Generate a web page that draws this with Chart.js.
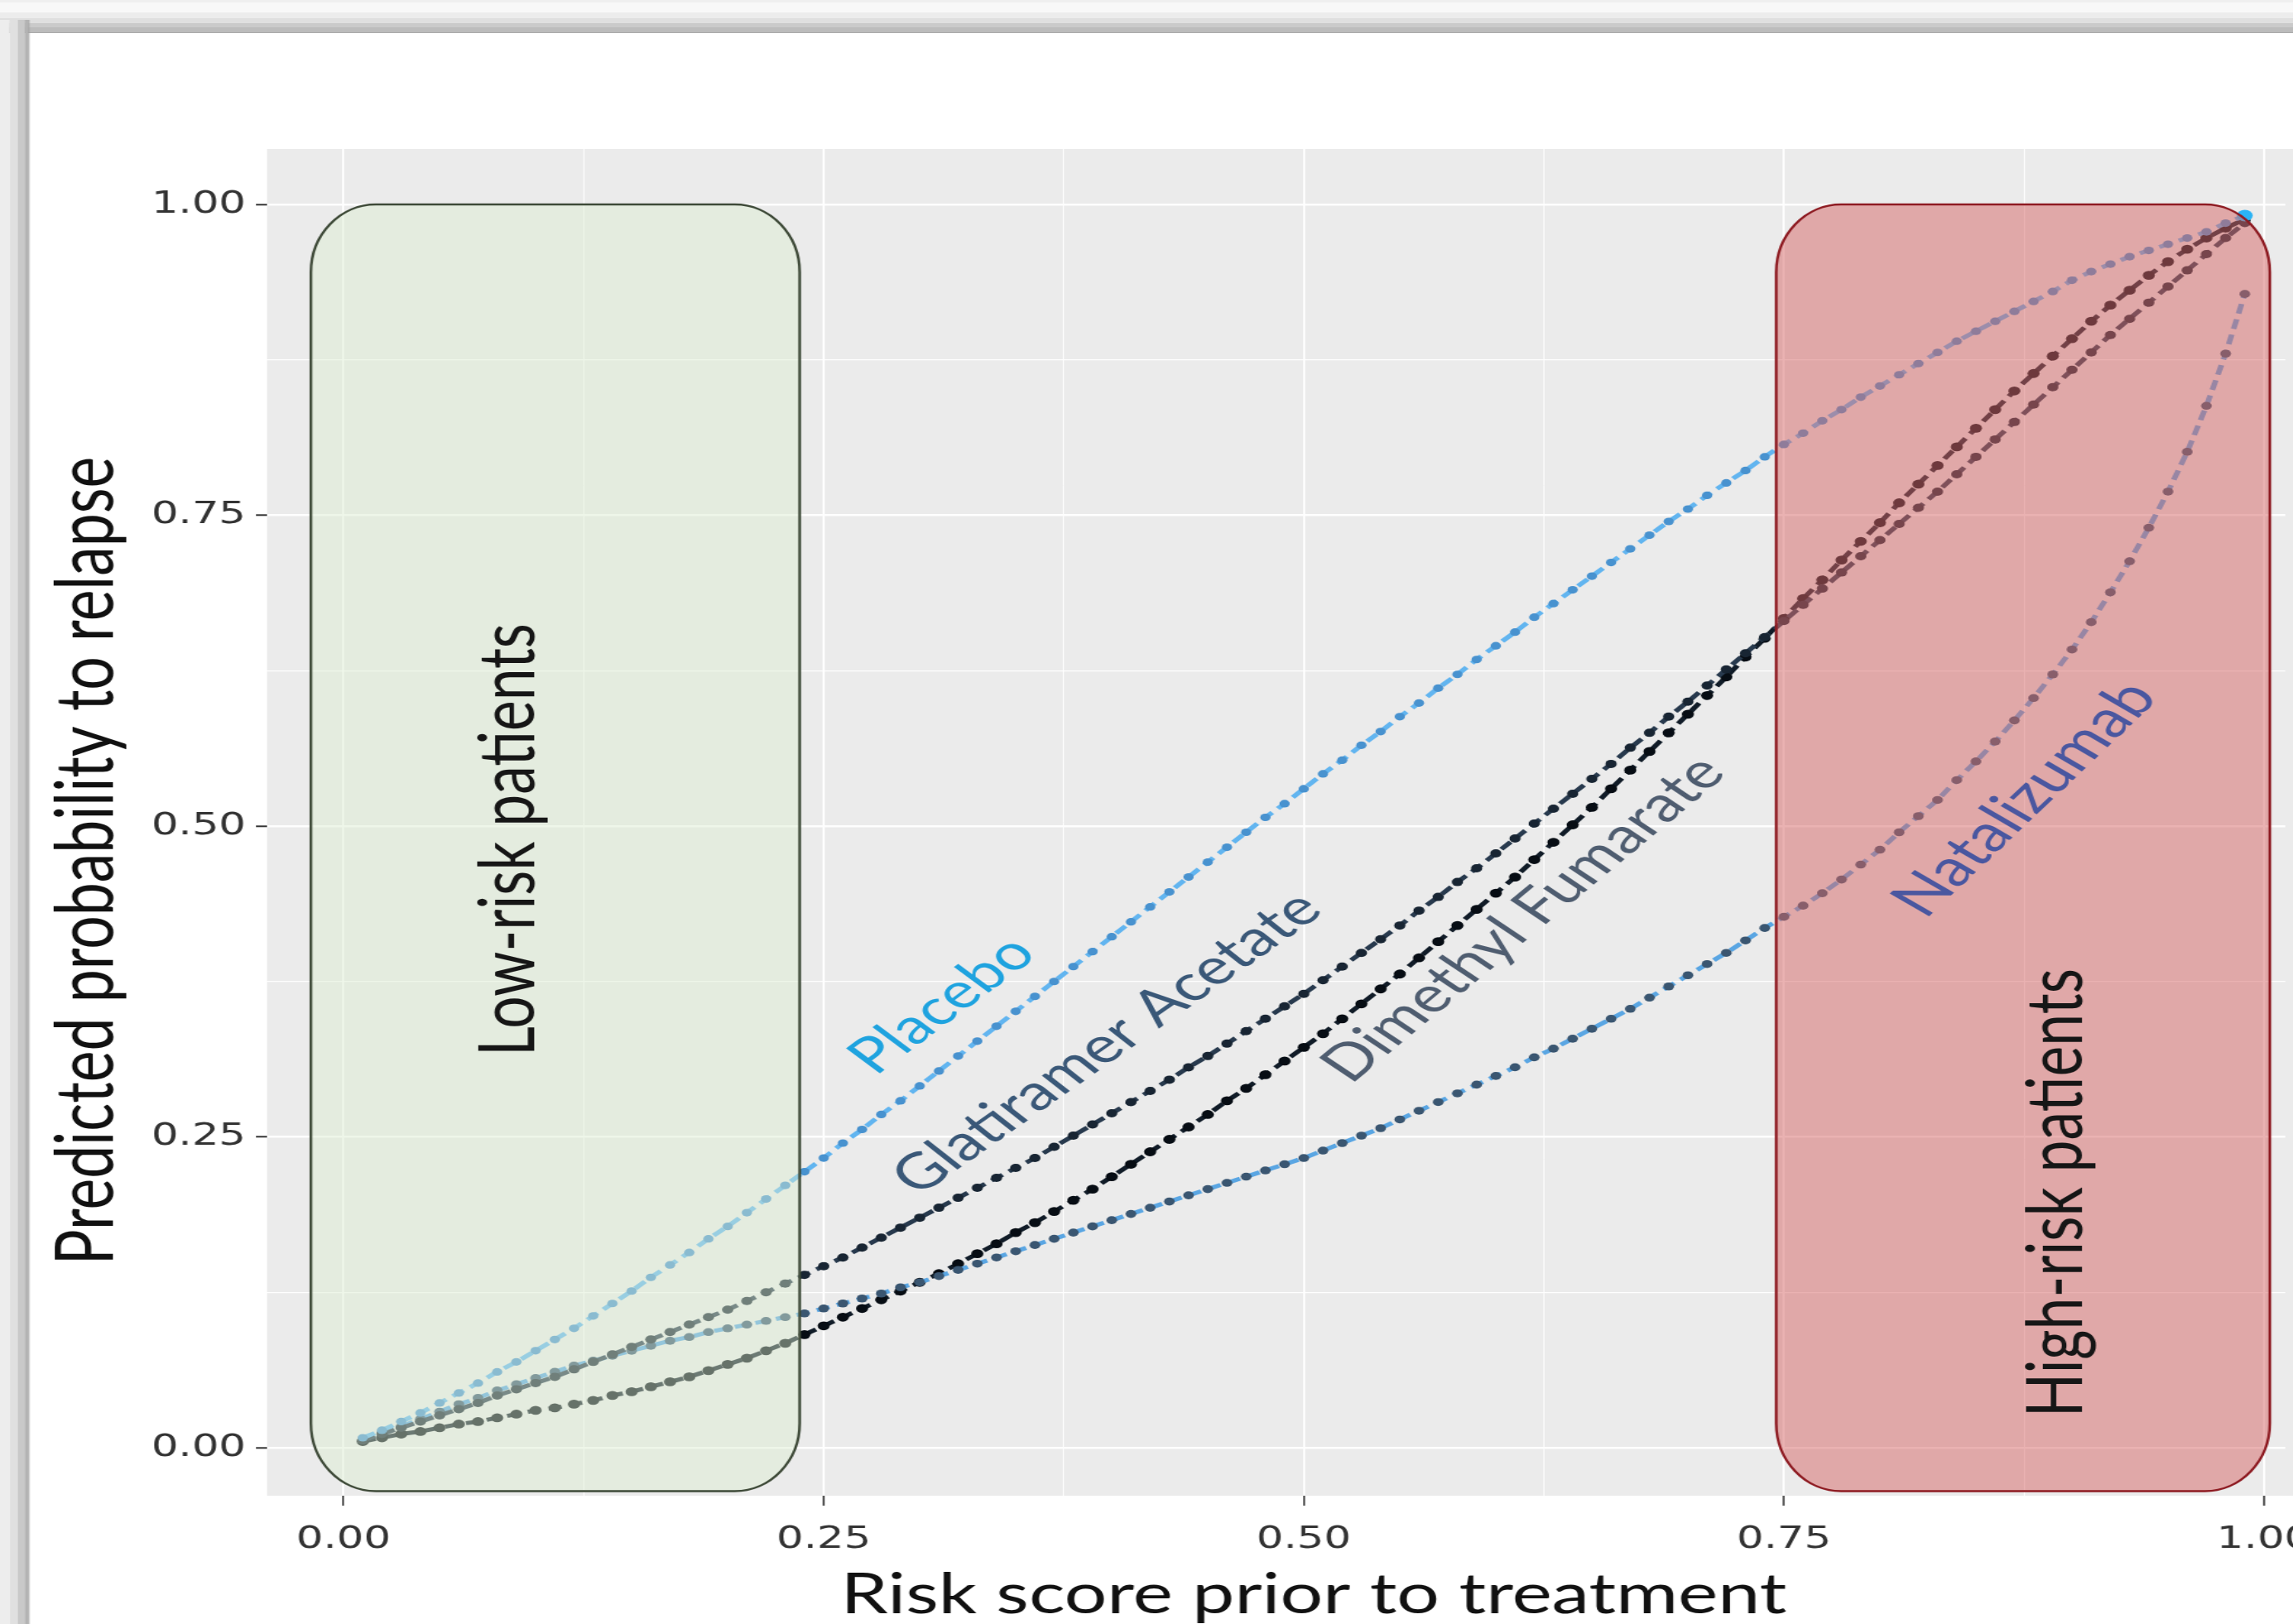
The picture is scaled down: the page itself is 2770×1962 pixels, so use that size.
<!DOCTYPE html>
<html>
<head>
<meta charset="utf-8">
<script src="https://cdn.jsdelivr.net/npm/chart.js@4.4.1/dist/chart.umd.min.js"></script>
<style>
  html, body { margin: 0; padding: 0; background: #fff; overflow: hidden; }
  /* the source picture is stretched sideways, so the whole canvas is too */
  #wrap { width: 2052px; height: 1962px; transform: scaleX(1.35); transform-origin: 0 0; }
  canvas { display: block; }
</style>
</head>
<body>
<div id="wrap"><canvas id="chart" width="2052" height="1962"></canvas></div>
<script>
const STRETCH = 1.35;

// ---- data ----
const riskScore = [
  0.01, 0.02, 0.03, 0.04, 0.05, 0.06, 0.07, 0.08, 0.09, 0.10,
  0.11, 0.12, 0.13, 0.14, 0.15, 0.16, 0.17, 0.18, 0.19, 0.20,
  0.21, 0.22, 0.23, 0.24, 0.25, 0.26, 0.27, 0.28, 0.29, 0.30,
  0.31, 0.32, 0.33, 0.34, 0.35, 0.36, 0.37, 0.38, 0.39, 0.40,
  0.41, 0.42, 0.43, 0.44, 0.45, 0.46, 0.47, 0.48, 0.49, 0.50,
  0.51, 0.52, 0.53, 0.54, 0.55, 0.56, 0.57, 0.58, 0.59, 0.60,
  0.61, 0.62, 0.63, 0.64, 0.65, 0.66, 0.67, 0.68, 0.69, 0.70,
  0.71, 0.72, 0.73, 0.74, 0.75, 0.76, 0.77, 0.78, 0.79, 0.80,
  0.81, 0.82, 0.83, 0.84, 0.85, 0.86, 0.87, 0.88, 0.89, 0.90,
  0.91, 0.92, 0.93, 0.94, 0.95, 0.96, 0.97, 0.98, 0.99
];

const placebo = [
  0.008, 0.014, 0.021, 0.028, 0.036, 0.044, 0.052, 0.061, 0.069, 0.078,
  0.087, 0.096, 0.106, 0.116, 0.126, 0.137, 0.147, 0.157, 0.168, 0.178,
  0.189, 0.200, 0.211, 0.222, 0.233, 0.245, 0.256, 0.268, 0.279, 0.291,
  0.303, 0.315, 0.327, 0.339, 0.351, 0.363, 0.375, 0.387, 0.399, 0.411,
  0.423, 0.435, 0.447, 0.459, 0.471, 0.483, 0.495, 0.507, 0.518, 0.530,
  0.542, 0.553, 0.565, 0.576, 0.588, 0.599, 0.611, 0.622, 0.634, 0.645,
  0.656, 0.668, 0.679, 0.690, 0.701, 0.712, 0.723, 0.734, 0.745, 0.755,
  0.766, 0.776, 0.786, 0.797, 0.807, 0.816, 0.826, 0.835, 0.845, 0.854,
  0.863, 0.872, 0.881, 0.890, 0.898, 0.906, 0.914, 0.922, 0.930, 0.939,
  0.946, 0.952, 0.958, 0.963, 0.968, 0.973, 0.978, 0.985, 0.991
];

const glatiramer = [
  0.006, 0.011, 0.016, 0.021, 0.026, 0.031, 0.036, 0.042, 0.047, 0.052,
  0.057, 0.063, 0.069, 0.075, 0.081, 0.087, 0.093, 0.099, 0.105, 0.111,
  0.118, 0.125, 0.132, 0.139, 0.146, 0.153, 0.161, 0.169, 0.177, 0.185,
  0.193, 0.201, 0.209, 0.217, 0.225, 0.233, 0.242, 0.251, 0.260, 0.269,
  0.278, 0.287, 0.296, 0.306, 0.315, 0.325, 0.335, 0.345, 0.355, 0.365,
  0.376, 0.387, 0.398, 0.409, 0.420, 0.432, 0.443, 0.455, 0.466, 0.478,
  0.490, 0.502, 0.514, 0.526, 0.538, 0.550, 0.563, 0.575, 0.588, 0.600,
  0.613, 0.626, 0.639, 0.652, 0.665, 0.678, 0.691, 0.704, 0.717, 0.730,
  0.743, 0.756, 0.769, 0.783, 0.797, 0.811, 0.825, 0.839, 0.853, 0.867,
  0.881, 0.895, 0.908, 0.921, 0.934, 0.947, 0.960, 0.973, 0.985
];

const dimethylFumarate = [
  0.005, 0.008, 0.011, 0.013, 0.016, 0.019, 0.021, 0.024, 0.027, 0.030,
  0.032, 0.035, 0.038, 0.042, 0.045, 0.049, 0.053, 0.057, 0.062, 0.067,
  0.072, 0.078, 0.084, 0.091, 0.098, 0.105, 0.112, 0.119, 0.126, 0.133,
  0.140, 0.148, 0.156, 0.164, 0.173, 0.181, 0.190, 0.199, 0.208, 0.218,
  0.228, 0.238, 0.248, 0.258, 0.268, 0.279, 0.289, 0.300, 0.311, 0.322,
  0.333, 0.345, 0.357, 0.369, 0.381, 0.394, 0.407, 0.420, 0.433, 0.446,
  0.459, 0.473, 0.487, 0.501, 0.515, 0.530, 0.545, 0.560, 0.575, 0.590,
  0.605, 0.620, 0.636, 0.651, 0.667, 0.683, 0.698, 0.714, 0.729, 0.744,
  0.760, 0.775, 0.790, 0.805, 0.820, 0.835, 0.850, 0.864, 0.878, 0.892,
  0.906, 0.919, 0.931, 0.943, 0.954, 0.964, 0.973, 0.981, 0.988
];

const natalizumab = [
  0.006, 0.012, 0.017, 0.023, 0.029, 0.035, 0.040, 0.046, 0.051, 0.056,
  0.061, 0.066, 0.070, 0.074, 0.078, 0.082, 0.086, 0.089, 0.093, 0.096,
  0.099, 0.102, 0.105, 0.108, 0.112, 0.116, 0.120, 0.124, 0.129, 0.133,
  0.138, 0.143, 0.148, 0.153, 0.158, 0.163, 0.168, 0.173, 0.178, 0.183,
  0.188, 0.193, 0.198, 0.203, 0.208, 0.213, 0.218, 0.223, 0.228, 0.233,
  0.239, 0.245, 0.251, 0.257, 0.264, 0.271, 0.278, 0.285, 0.292, 0.299,
  0.306, 0.314, 0.321, 0.329, 0.337, 0.345, 0.353, 0.362, 0.371, 0.380,
  0.389, 0.398, 0.408, 0.418, 0.427, 0.436, 0.446, 0.457, 0.469, 0.481,
  0.495, 0.508, 0.521, 0.537, 0.552, 0.568, 0.585, 0.603, 0.622, 0.642,
  0.664, 0.688, 0.713, 0.740, 0.769, 0.801, 0.838, 0.880, 0.928
];

const xTicks = [0, 0.25, 0.5, 0.75, 1];
const xTickLabels = ['0.00', '0.25', '0.50', '0.75', '1.00'];
const yTicks = [0, 0.25, 0.5, 0.75, 1];
const yTickLabels = ['0.00', '0.25', '0.50', '0.75', '1.00'];
const minorTicks = [0.125, 0.375, 0.625, 0.875];

// patient groups, in data units
const groupNames = ['Low-risk patients', 'High-risk patients'];
const groupXFrom = [-0.017, 0.746];
const groupXTo = [0.2375, 1.003];
const groupYFrom = [-0.035, -0.035];
const groupYTo = [1.0, 1.0];

// ---- look ----
const groupStyle = [
  { fill: 'rgba(219,237,208,0.45)', stroke: '#3e4a38', labelX: 0.099, labelY: 0.489, length: 523 },
  { fill: 'rgba(213,101,101,0.5)', stroke: '#8e1b22', labelX: 0.9054, labelY: 0.205, length: 542 }
];

// text placed along the curves: anchor in data units, angle and length as seen on screen
const curveLabels = [
  { text: 'Placebo', x: 0.3116, y: 0.3562, angle: 36.5, length: 245, color: '#1fa3df' },
  { text: 'Glatiramer Acetate', x: 0.3974, y: 0.3256, angle: 35, length: 600, color: '#3a5878' },
  { text: 'Dimethyl Fumarate', x: 0.6142, y: 0.4254, angle: 39.5, length: 590, color: '#4f5d70' },
  { text: 'Natalizumab', x: 0.8754, y: 0.522, angle: 43.5, length: 390, color: '#4a57a0' }
];

// where 0 and 1 sit on screen (screen px), used to set the axis ranges
const xScreen = [415, 2735];
const yScreen = [1749, 247];

const TEXT_FONT = 'Lato';

function series(label, values, line, dots, radius) {
  return {
    label: label,
    data: values,
    borderColor: line,
    borderWidth: 5,
    borderDash: [12, 7],
    pointBackgroundColor: dots,
    pointBorderWidth: 0,
    pointRadius: radius,
    tension: 0,
    fill: false
  };
}

function isMajor(list, v) {
  return list.indexOf(v) >= 0;
}

function roundBox(ctx, x0, y0, x1, y1, rx, ry) {
  ctx.beginPath();
  ctx.moveTo(x0 + rx, y0);
  ctx.lineTo(x1 - rx, y0);
  ctx.ellipse(x1 - rx, y0 + ry, rx, ry, 0, -Math.PI / 2, 0);
  ctx.lineTo(x1, y1 - ry);
  ctx.ellipse(x1 - rx, y1 - ry, rx, ry, 0, 0, Math.PI / 2);
  ctx.lineTo(x0 + rx, y1);
  ctx.ellipse(x0 + rx, y1 - ry, rx, ry, 0, Math.PI / 2, Math.PI);
  ctx.lineTo(x0, y0 + ry);
  ctx.ellipse(x0 + rx, y0 + ry, rx, ry, 0, Math.PI, Math.PI * 1.5);
  ctx.closePath();
}

// draws text so that after the sideways stretch it has the given angle and length
function drawText(ctx, text, x, y, angleDeg, length, color, baseline) {
  const a = angleDeg * Math.PI / 180;
  const ca = Math.atan2(Math.sin(a), Math.cos(a) / STRETCH);
  const k = Math.hypot(STRETCH * Math.cos(ca), Math.sin(ca));
  ctx.font = '100px ' + TEXT_FONT;
  const size = 100 * (length / k) / ctx.measureText(text).width;
  ctx.save();
  ctx.translate(x, y);
  ctx.rotate(-ca);
  ctx.font = size.toFixed(1) + 'px ' + TEXT_FONT;
  ctx.fillStyle = color;
  ctx.textAlign = 'center';
  ctx.textBaseline = baseline || 'middle';
  ctx.fillText(text, 0, 0);
  ctx.restore();
}

const panelDecor = {
  id: 'panelDecor',
  beforeDraw(chart) {
    const { ctx, chartArea: a, width, height } = chart;
    ctx.save();
    ctx.fillStyle = '#ffffff';
    ctx.fillRect(0, 0, width, height);
    // window frame round the figure
    [[0, 3, '#efefef'], [3, 15, '#f8f8f8'], [15, 22, '#ececec'], [22, 28, '#dfdfdf'],
     [28, 33, '#cacaca'], [33, 39, '#bcbcbc'], [39, 40, '#a9a9a9']].forEach(b => {
      ctx.fillStyle = b[2];
      ctx.fillRect(0, b[0], width, b[1] - b[0]);
    });
    [[0, 8.7, '#ededed'], [8.7, 16, '#e0e0e0'], [16, 22.2, '#c9c9c9'],
     [22.2, 25.5, '#b3b3b3'], [25.5, 26.3, '#9d9d9d']].forEach(b => {
      ctx.fillStyle = b[2];
      ctx.fillRect(b[0], 24, b[1] - b[0], height - 24);
    });
    // panel runs on past the right edge of the picture
    ctx.fillStyle = '#ebebeb';
    ctx.fillRect(a.left, a.top, width - a.left, a.bottom - a.top);
    ctx.restore();
  },
  afterDatasetsDraw(chart) {
    const { ctx, scales: { x, y } } = chart;
    ctx.save();
    groupNames.forEach((name, i) => {
      const st = groupStyle[i];
      const x0 = x.getPixelForValue(groupXFrom[i]);
      const x1 = x.getPixelForValue(groupXTo[i]);
      const y0 = y.getPixelForValue(groupYTo[i]);
      const y1 = y.getPixelForValue(groupYFrom[i]);
      roundBox(ctx, x0, y0, x1, y1, 58, 82);
      ctx.fillStyle = st.fill;
      ctx.fill();
      ctx.lineWidth = 2.4;
      ctx.strokeStyle = st.stroke;
      ctx.stroke();
      drawText(ctx, name, x.getPixelForValue(st.labelX), y.getPixelForValue(st.labelY),
        90, st.length, '#161616', 'alphabetic');
    });
    curveLabels.forEach(l => {
      drawText(ctx, l.text, x.getPixelForValue(l.x), y.getPixelForValue(l.y), l.angle, l.length, l.color);
    });
    ctx.restore();
  },
  afterDraw(chart) {
    const ctx = chart.ctx;
    drawText(ctx, 'Risk score prior to treatment', 1587 / STRETCH, 1949, 0, 1142, '#111111', 'alphabetic');
    drawText(ctx, 'Predicted probability to relapse', 137 / STRETCH, 1040, 90, 976, '#111111', 'alphabetic');
  }
};

const placeboSet = series('Placebo', placebo, '#62b5f0', '#4892cf', 4.6);
placeboSet.pointRadius = c => (c.dataIndex === placebo.length - 1 ? 7 : 4.6);
placeboSet.pointBackgroundColor = c => (c.dataIndex === placebo.length - 1 ? '#2ab3f5' : '#4892cf');

const chart = new Chart(document.getElementById('chart'), {
  type: 'line',
  data: {
    labels: riskScore,
    datasets: [
      placeboSet,
      series('Glatiramer Acetate', glatiramer, '#283a4e', '#182533', 5),
      series('Natalizumab', natalizumab, '#5aa6e3', '#3a5671', 4.8),
      series('Dimethyl Fumarate', dimethylFumarate, '#111c28', '#070d14', 5.4)
    ]
  },
  options: {
    responsive: false,
    animation: false,
    devicePixelRatio: 1,
    layout: { padding: { top: 180, right: 0, bottom: 0, left: 0 } },
    plugins: {
      legend: { display: false },
      tooltip: { enabled: false }
    },
    scales: {
      x: {
        type: 'linear',
        min: -0.0397,
        max: 1.0151,
        afterBuildTicks: s => {
          s.ticks = xTicks.concat(minorTicks).sort((p, q) => p - q).map(v => ({ value: v }));
        },
        afterFit: s => {
          s.height = 155;
          s.paddingLeft = 0;
          s.paddingRight = 0;
        },
        grid: {
          color: 'rgba(255,255,255,0.95)',
          lineWidth: c => (c.tick && isMajor(xTicks, c.tick.value) ? 2 : 1),
          tickColor: c => (c.tick && isMajor(xTicks, c.tick.value) ? '#333333' : 'rgba(0,0,0,0)'),
          tickLength: 12,
          tickWidth: 1.6
        },
        border: { display: false },
        ticks: {
          autoSkip: false,
          maxRotation: 0,
          padding: 18,
          color: '#333333',
          font: { family: 'DejaVu Sans', size: 38 },
          callback: v => (isMajor(xTicks, v) ? xTickLabels[xTicks.indexOf(v)] : '')
        }
      },
      y: {
        type: 'linear',
        min: -0.0386,
        max: 1.0446,
        afterBuildTicks: s => {
          s.ticks = yTicks.concat(minorTicks).sort((p, q) => p - q).map(v => ({ value: v }));
        },
        afterFit: s => {
          s.width = 239;
        },
        grid: {
          color: 'rgba(255,255,255,0.95)',
          lineWidth: c => (c.tick && isMajor(yTicks, c.tick.value) ? 2.6 : 1.3),
          tickColor: c => (c.tick && isMajor(yTicks, c.tick.value) ? '#333333' : 'rgba(0,0,0,0)'),
          tickLength: 10,
          tickWidth: 2
        },
        border: { display: false },
        ticks: {
          autoSkip: false,
          padding: 9,
          color: '#333333',
          font: { family: 'DejaVu Sans', size: 38 },
          callback: v => (isMajor(yTicks, v) ? yTickLabels[yTicks.indexOf(v)] : '')
        }
      }
    }
  },
  plugins: [panelDecor]
});

// set the axis ranges so that 0 and 1 land where they do in the picture
const area = chart.chartArea;
const x0px = xScreen[0] / STRETCH, x1px = xScreen[1] / STRETCH;
chart.options.scales.x.min = (area.left - x0px) / (x1px - x0px);
chart.options.scales.x.max = (area.right - x0px) / (x1px - x0px);
chart.options.scales.y.min = (yScreen[0] - area.bottom) / (yScreen[0] - yScreen[1]);
chart.options.scales.y.max = (yScreen[0] - area.top) / (yScreen[0] - yScreen[1]);
chart.update();
</script>
</body>
</html>
